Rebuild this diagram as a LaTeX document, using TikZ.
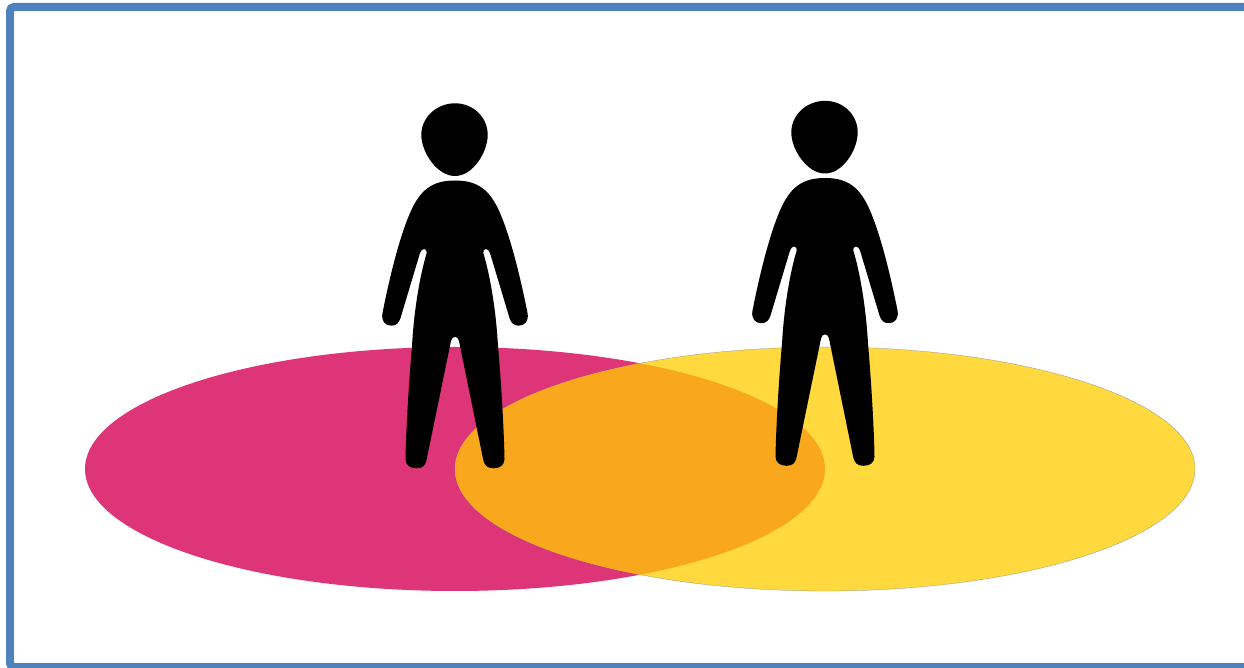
\documentclass[tikz,border=0pt]{standalone}
\usepackage{xcolor}
\usepackage{tikz}
\definecolor{framecol}{HTML}{4F81BD}
\definecolor{zonea}{HTML}{DE3578}
\definecolor{zoneb}{HTML}{FFD93D}
\definecolor{zoneab}{HTML}{F9A81E}
\newcommand{\zoneapath}{(455,469) ellipse [x radius=370, y radius=122]}
\newcommand{\zonebpath}{(825,469) ellipse [x radius=370, y radius=122]}
\newcommand{\headpath}{(455,103.3) .. controls (473,103.3) and (487.7,117) .. (487.7,135)
    .. controls (487.7,152) and (473,176) .. (455,176)
    .. controls (437,176) and (421.3,152) .. (421.3,135)
    .. controls (421.3,117) and (437,103.3) .. (455,103.3) -- cycle}
\newcommand{\bodypath}{(455,180.5) .. controls (478,180.5) and (490,190) .. (500,213)
    .. controls (510,236) and (520,275) .. (527.5,313)
    .. controls (529,321) and (525,325.7) .. (518.5,325.7)
    .. controls (514,325.7) and (511,323) .. (509.5,318)
    -- (490,253) .. controls (488.5,247.5) and (482.5,248) .. (483.3,253)
    .. controls (490,275) and (496,310) .. (498,346)
    .. controls (501,380) and (504,430) .. (504.5,459)
    .. controls (504.5,465) and (500,468.3) .. (493.5,468.3)
    .. controls (487,468.3) and (484.5,465) .. (483.3,460)
    -- (459,341) .. controls (458,335.5) and (452,335.5) .. (451,341)
    -- (426.5,460) .. controls (425.5,465) and (423,468.3) .. (416.5,468.3)
    .. controls (410,468.3) and (405.5,465) .. (405.5,459)
    .. controls (406,430) and (409,380) .. (412,346)
    .. controls (414,310) and (420,275) .. (426.7,253)
    .. controls (427.5,248) and (421.5,247.5) .. (420,253)
    -- (400.5,318) .. controls (399,323) and (396,325.7) .. (391.5,325.7)
    .. controls (385,325.7) and (381,321) .. (382.5,313)
    .. controls (390,275) and (400,236) .. (410,213)
    .. controls (420,190) and (432,180.5) .. (455,180.5) -- cycle}
\begin{document}
\begin{tikzpicture}[
    x=0.02cm, y=-0.02cm,
    frameline/.style={draw=framecol, line width=0.16cm, rounded corners=0.08cm},
    figurefill/.style={fill=black}
]
\useasboundingbox (0,0) rectangle (1244,668);
\clip (0,0) rectangle (1244,668);
\fill[white] (0,0) rectangle (1244,668);

\fill[zonea] \zoneapath;
\fill[zoneb] \zonebpath;
\draw[black!45, line width=0.15pt] \zonebpath;
\begin{scope}
    \clip \zoneapath;
    \fill[zoneab] \zonebpath;
\end{scope}

\foreach \dx/\dy in {0/0, 370/-2.5} {
    \begin{scope}[shift={(\dx,\dy)}]
        \fill[figurefill] \headpath;
        \fill[figurefill] \bodypath;
    \end{scope}
}

\draw[frameline] (10,7) rectangle (1300,667);
\end{tikzpicture}
\end{document}
